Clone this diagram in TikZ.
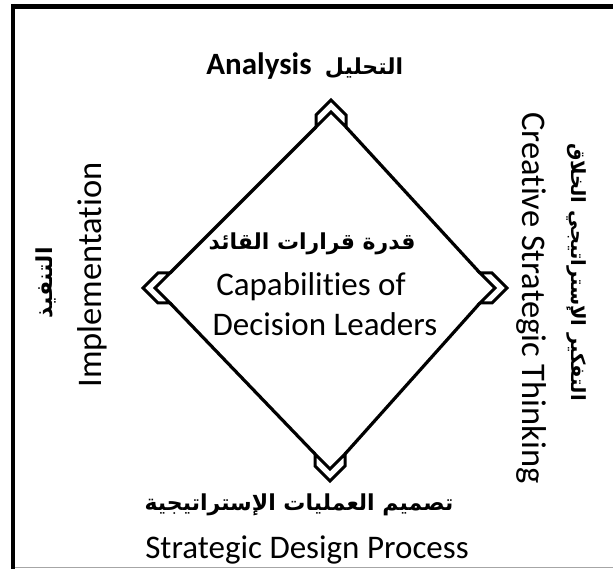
\documentclass[tikz,border=0pt]{standalone}
\usepackage{fontspec}
\setmainfont[Ligatures={NoCommon,NoRare}]{Carlito}
\newfontfamily\arabicfont[Script=Arabic]{DejaVu Sans}
\TeXXeTstate=1
\begin{document}
\begin{tikzpicture}[x=1pt,y=-1pt,
  en/.style={font=\fontsize{33}{38}\selectfont, inner sep=0pt},
  enl/.style={font=\fontsize{34.5}{40}\selectfont, inner sep=0pt},
  enb/.style={font=\bfseries\fontsize{31}{38}\selectfont, inner sep=0pt},
  ar/.style={font=\arabicfont\bfseries\fontsize{22}{28}\selectfont, inner sep=0pt},
  ars/.style={font=\arabicfont\bfseries\fontsize{19.5}{26}\selectfont, inner sep=0pt},
  chevline/.style={draw=black, fill=white, line width=3pt, line join=miter},
  edge/.style={draw=black, line width=3.2pt, line cap=round},
  pics/chev/.style={code={
    \draw[chevline] (0,0) -- (-15,15) -- (-27,15) -- (-12,0) -- (-27,-15) -- (-15,-15) -- cycle;
    \coordinate (-a) at (-27,15);
    \coordinate (-b) at (-27,-15);
  }}]
\useasboundingbox (0,0) rectangle (613,569);
% frame
\draw[line width=5pt] (11,6.5) -- (613,6.5);
\draw[line width=3.5pt] (13,4) -- (13,569);
\draw[black!35, line width=1pt] (15,567.5) -- (613,567.5);
% tips of the diamond
\coordinate (tT) at (331,100);
\coordinate (tR) at (507,288);
\coordinate (tB) at (330,481);
\coordinate (tL) at (143,288);
\pic[rotate=90] (top) at (tT) {chev};
\pic (right) at (tR) {chev};
\pic[rotate=-90] (bot) at (tB) {chev};
\pic[rotate=180] (left) at (tL) {chev};
\draw[edge] (top-a) -- (right-b);
\draw[edge] (right-a) -- (bot-b);
\draw[edge] (bot-a) -- (left-b);
\draw[edge] (left-a) -- (top-b);
% texts
\node[enb, anchor=base] (an) at (259,75) {Analysis};
\node[ar, anchor=base] (anar) at (364,75) {\beginR التحليل\endR};
\node[ar, anchor=base] (cap1) at (312,250) {\beginR قدرة قرارات القائد\endR};
\node[en, anchor=base] (cap2) at (311,295) {Capabilities of};
\node[en, anchor=base] (cap3) at (325,335) {Decision Leaders};
\node[enl, rotate=90] (imp) at (92,275) {Implementation};
\node[ar, rotate=90] (impar) at (46,283) {\beginR التنفيذ\endR};
\node[enl, rotate=-90] (cre) at (532,298) {Creative Strategic Thinking};
\node[ars, rotate=-90] (crear) at (577,272) {\beginR التفكير الإستراتيجي الخلاق\endR};
\node[ar, anchor=base] (desar) at (299,510) {\beginR تصميم العمليات الإستراتيجية\endR};
\node[en, anchor=base] (des) at (307,558) {Strategic Design Process};
\end{tikzpicture}
\end{document}
